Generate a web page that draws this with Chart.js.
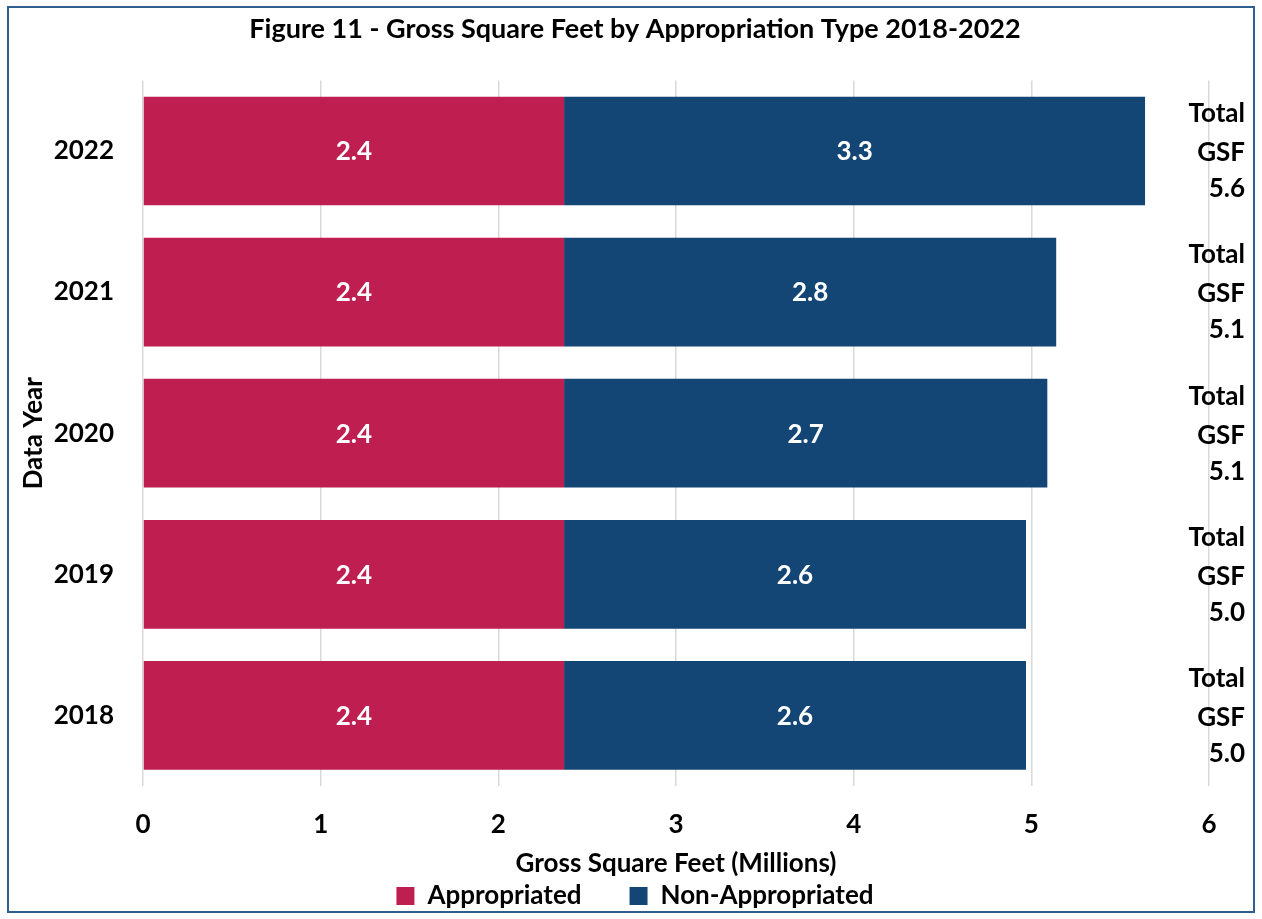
<!DOCTYPE html>
<html>
<head>
<meta charset="utf-8">
<script src="https://cdn.jsdelivr.net/npm/chart.js@4"></script>
<style>
  html, body { margin: 0; padding: 0; background: #fff; }
  #wrap { width: 1262px; height: 919px; }
</style>
</head>
<body>
<div id="wrap"><canvas id="gsfChart" width="1262" height="919"></canvas></div>
<script>
const years = ['2022', '2021', '2020', '2019', '2018'];
const appropriated = [2.37, 2.37, 2.37, 2.37, 2.37];
const nonAppropriated = [3.27, 2.77, 2.72, 2.60, 2.60];
const xTicks = [0, 1, 2, 3, 4, 5, 6];

const FONT = 'Lato, "Open Sans", sans-serif';

// white background + outer frame
const framePlugin = {
  id: 'frame',
  beforeDraw(chart) {
    const ctx = chart.ctx;
    ctx.save();
    ctx.fillStyle = '#fff';
    ctx.fillRect(0, 0, chart.width, chart.height);
    ctx.strokeStyle = '#2f5f8f';
    ctx.lineWidth = 2;
    ctx.strokeRect(8, 7, chart.width - 16, chart.height - 14);
    ctx.restore();
  }
};

// value labels inside each bar segment
const barLabels = {
  id: 'barLabels',
  afterDatasetsDraw(chart) {
    const ctx = chart.ctx;
    ctx.save();
    ctx.font = 'bold 26px ' + FONT;
    ctx.fillStyle = '#fff';
    ctx.textAlign = 'center';
    ctx.textBaseline = 'middle';
    chart.data.datasets.forEach((ds, i) => {
      chart.getDatasetMeta(i).data.forEach((bar, j) => {
        ctx.fillText(ds.data[j].toFixed(1), (bar.x + bar.base) / 2, bar.y + 1);
      });
    });
    ctx.restore();
  }
};

// "Total GSF x.x" at the right of each row
const totalLabels = {
  id: 'totalLabels',
  afterDraw(chart) {
    const ctx = chart.ctx;
    const yScale = chart.scales.y;
    ctx.save();
    ctx.font = 'bold 26px ' + FONT;
    ctx.fillStyle = '#000';
    ctx.textAlign = 'right';
    ctx.textBaseline = 'middle';
    years.forEach((yr, i) => {
      const y = yScale.getPixelForValue(i);
      const total = (appropriated[i] + nonAppropriated[i]).toFixed(1);
      const x = chart.width - 17;
      ctx.fillText('Total', x, y - 37);
      ctx.fillText('GSF', x, y + 2);
      ctx.fillText(total, x, y + 38);
    });
    ctx.restore();
  }
};

new Chart(document.getElementById('gsfChart'), {
  type: 'bar',
  data: {
    labels: years,
    datasets: [
      { label: 'Appropriated', data: appropriated, backgroundColor: '#be1f50' },
      { label: 'Non-Appropriated', data: nonAppropriated, backgroundColor: '#134675' }
    ]
  },
  options: {
    indexAxis: 'y',
    responsive: false,
    animation: false,
    maintainAspectRatio: false,
    layout: { padding: { left: 18, right: 10, top: 0, bottom: 0 } },
    datasets: { bar: { categoryPercentage: 0.77, barPercentage: 1 } },
    scales: {
      x: {
        stacked: true,
        min: 0,
        max: 6,
        afterBuildTicks(scale) { scale.ticks = xTicks.map(v => ({ value: v })); },
        afterFit(scale) { scale.height = 49; },
        grid: { color: '#d9d9d9', lineWidth: 1.5, drawTicks: false },
        border: { display: false },
        ticks: { padding: 26, color: '#000', font: { family: FONT, size: 26, weight: 'bold', lineHeight: 1 } },
        title: {
          display: true,
          text: 'Gross Square Feet (Millions)',
          color: '#000',
          font: { family: FONT, size: 26, weight: 'bold', lineHeight: 1 },
          padding: { top: 0, bottom: -42 }
        }
      },
      y: {
        stacked: true,
        grid: { display: false },
        border: { display: false },
        afterFit(scale) { scale.width = 125; },
        ticks: { padding: 21, color: '#000', font: { family: FONT, size: 26, weight: 'bold' } },
        title: {
          display: true,
          text: 'Data Year',
          color: '#000',
          font: { family: FONT, size: 26, weight: 'bold' },
          padding: 0
        }
      },
      // empty right-hand axis, only reserves room for the total labels
      yRight: {
        type: 'category',
        labels: years,
        position: 'right',
        grid: { display: false },
        border: { display: false },
        ticks: { display: false },
        afterFit(scale) { scale.width = 43; }
      }
    },
    plugins: {
      title: {
        display: true,
        text: 'Figure 11 - Gross Square Feet by Appropriation Type 2018-2022',
        color: '#000',
        font: { family: FONT, size: 27, weight: 'bold' },
        padding: { top: 13, bottom: 35 }
      },
      legend: {
        position: 'bottom',
        maxHeight: 87,
        labels: {
          color: '#000',
          boxWidth: 18,
          boxHeight: 18,
          padding: 48,
          font: { family: FONT, size: 26, weight: 'bold', lineHeight: 1 }
        }
      },
      tooltip: { enabled: false }
    }
  },
  plugins: [framePlugin, barLabels, totalLabels]
});
</script>
</body>
</html>
